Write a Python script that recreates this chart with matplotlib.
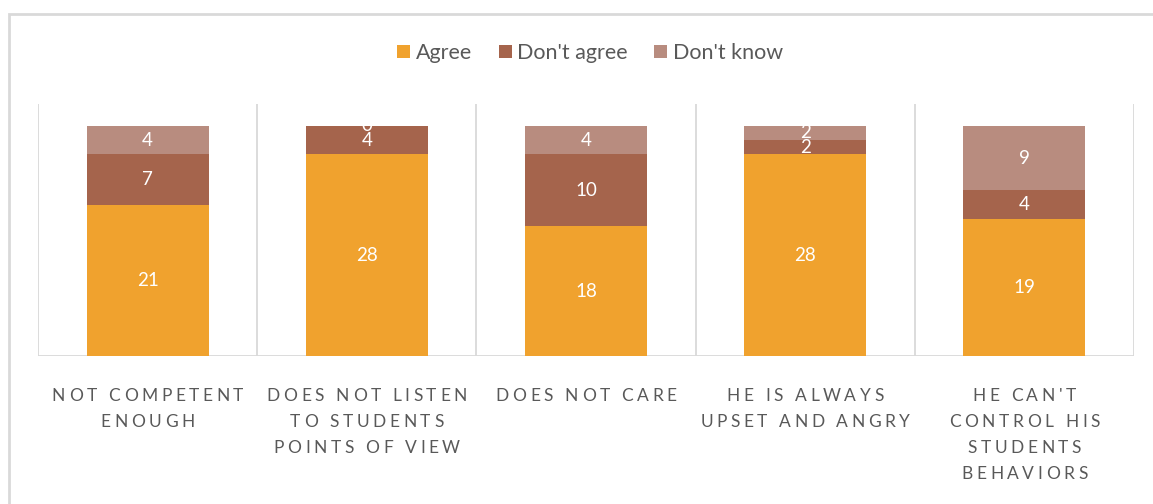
import numpy as np
import matplotlib
matplotlib.use("Agg")
import matplotlib.pyplot as plt
from matplotlib.patches import Rectangle
from matplotlib.transforms import IdentityTransform
from matplotlib.font_manager import FontProperties

categories = [
    ["NOT COMPETENT", "ENOUGH"],
    ["DOES NOT LISTEN", "TO STUDENTS", "POINTS OF VIEW"],
    ["DOES NOT CARE"],
    ["HE IS ALWAYS", "UPSET AND ANGRY"],
    ["HE CAN'T", "CONTROL HIS", "STUDENTS", "BEHAVIORS"],
]
agree = [21, 28, 18, 28, 19]
dont_agree = [7, 4, 10, 2, 4]
dont_know = [4, 0, 4, 2, 9]

series = [("Agree", agree, "#F0A22E"),
          ("Don't agree", dont_agree, "#A5644C"),
          ("Don't know", dont_know, "#B88C7F")]

plt.rcParams['font.family'] = ['Lato', 'DejaVu Sans']
grey = "#595959"
line_grey = "#D9D9D9"

W, H = 1153, 504
fig = plt.figure(figsize=(W / 100, H / 100), dpi=100)
ax = fig.add_axes([38 / W, 1 - 356 / H, (1134 - 38) / W, (356 - 104) / H])

# outer chart border
fig.patches.append(Rectangle((9 / W, -0.1), 1.2, 1 - 14 / H + 0.1,
                             transform=fig.transFigure, fill=False,
                             edgecolor=line_grey, linewidth=2))

x = np.arange(len(categories))
bottom = np.zeros(len(categories))
for name, vals, col in series:
    vals = np.array(vals, dtype=float)
    ax.bar(x, vals, 0.557, bottom=bottom, color=col, label=name, zorder=2)
    for xi, b, v in zip(x, bottom, vals):
        ax.text(xi, b + v / 2, f"{int(v)}", ha="center", va="center",
                color="white", fontsize=13.5, zorder=3)
    bottom += vals

ax.set_xlim(-0.5, len(categories) - 0.5)
ax.set_ylim(0, 35)
for b in np.arange(-0.5, len(categories), 1):
    ax.axvline(b, color=line_grey, lw=1.3, zorder=1)
for s in ax.spines.values():
    s.set_visible(False)
ax.axhline(0, color=line_grey, lw=1.3, zorder=1)
ax.set_xticks([])
ax.set_yticks([])

# category labels with wide letter spacing
fig.canvas.draw()
renderer = fig.canvas.get_renderer()
prop = FontProperties(family=['Lato', 'DejaVu Sans'], size=12.5)
tracking = 3.6
for i, lines in enumerate(categories):
    cx = ax.transData.transform((i, 0))[0]
    for j, line in enumerate(lines):
        widths = [renderer.get_text_width_height_descent(ch, prop, ismath=False)[0]
                  for ch in line]
        total = sum(widths) + tracking * (len(line) - 1)
        px = cx - total / 2
        py = H - (401 + 26 * j)
        for ch, w in zip(line, widths):
            fig.text(px, py, ch, transform=IdentityTransform(),
                     fontproperties=prop, color=grey, ha="left", va="baseline")
            px += w + tracking

fig.legend(loc="center", bbox_to_anchor=(590 / W, 1 - 53 / H), ncol=3,
           frameon=False, fontsize=15.5, handlelength=0.6, handleheight=0.6,
           handletextpad=0.25, columnspacing=1.25, labelcolor=grey)

fig.savefig("out.png", dpi=100)
